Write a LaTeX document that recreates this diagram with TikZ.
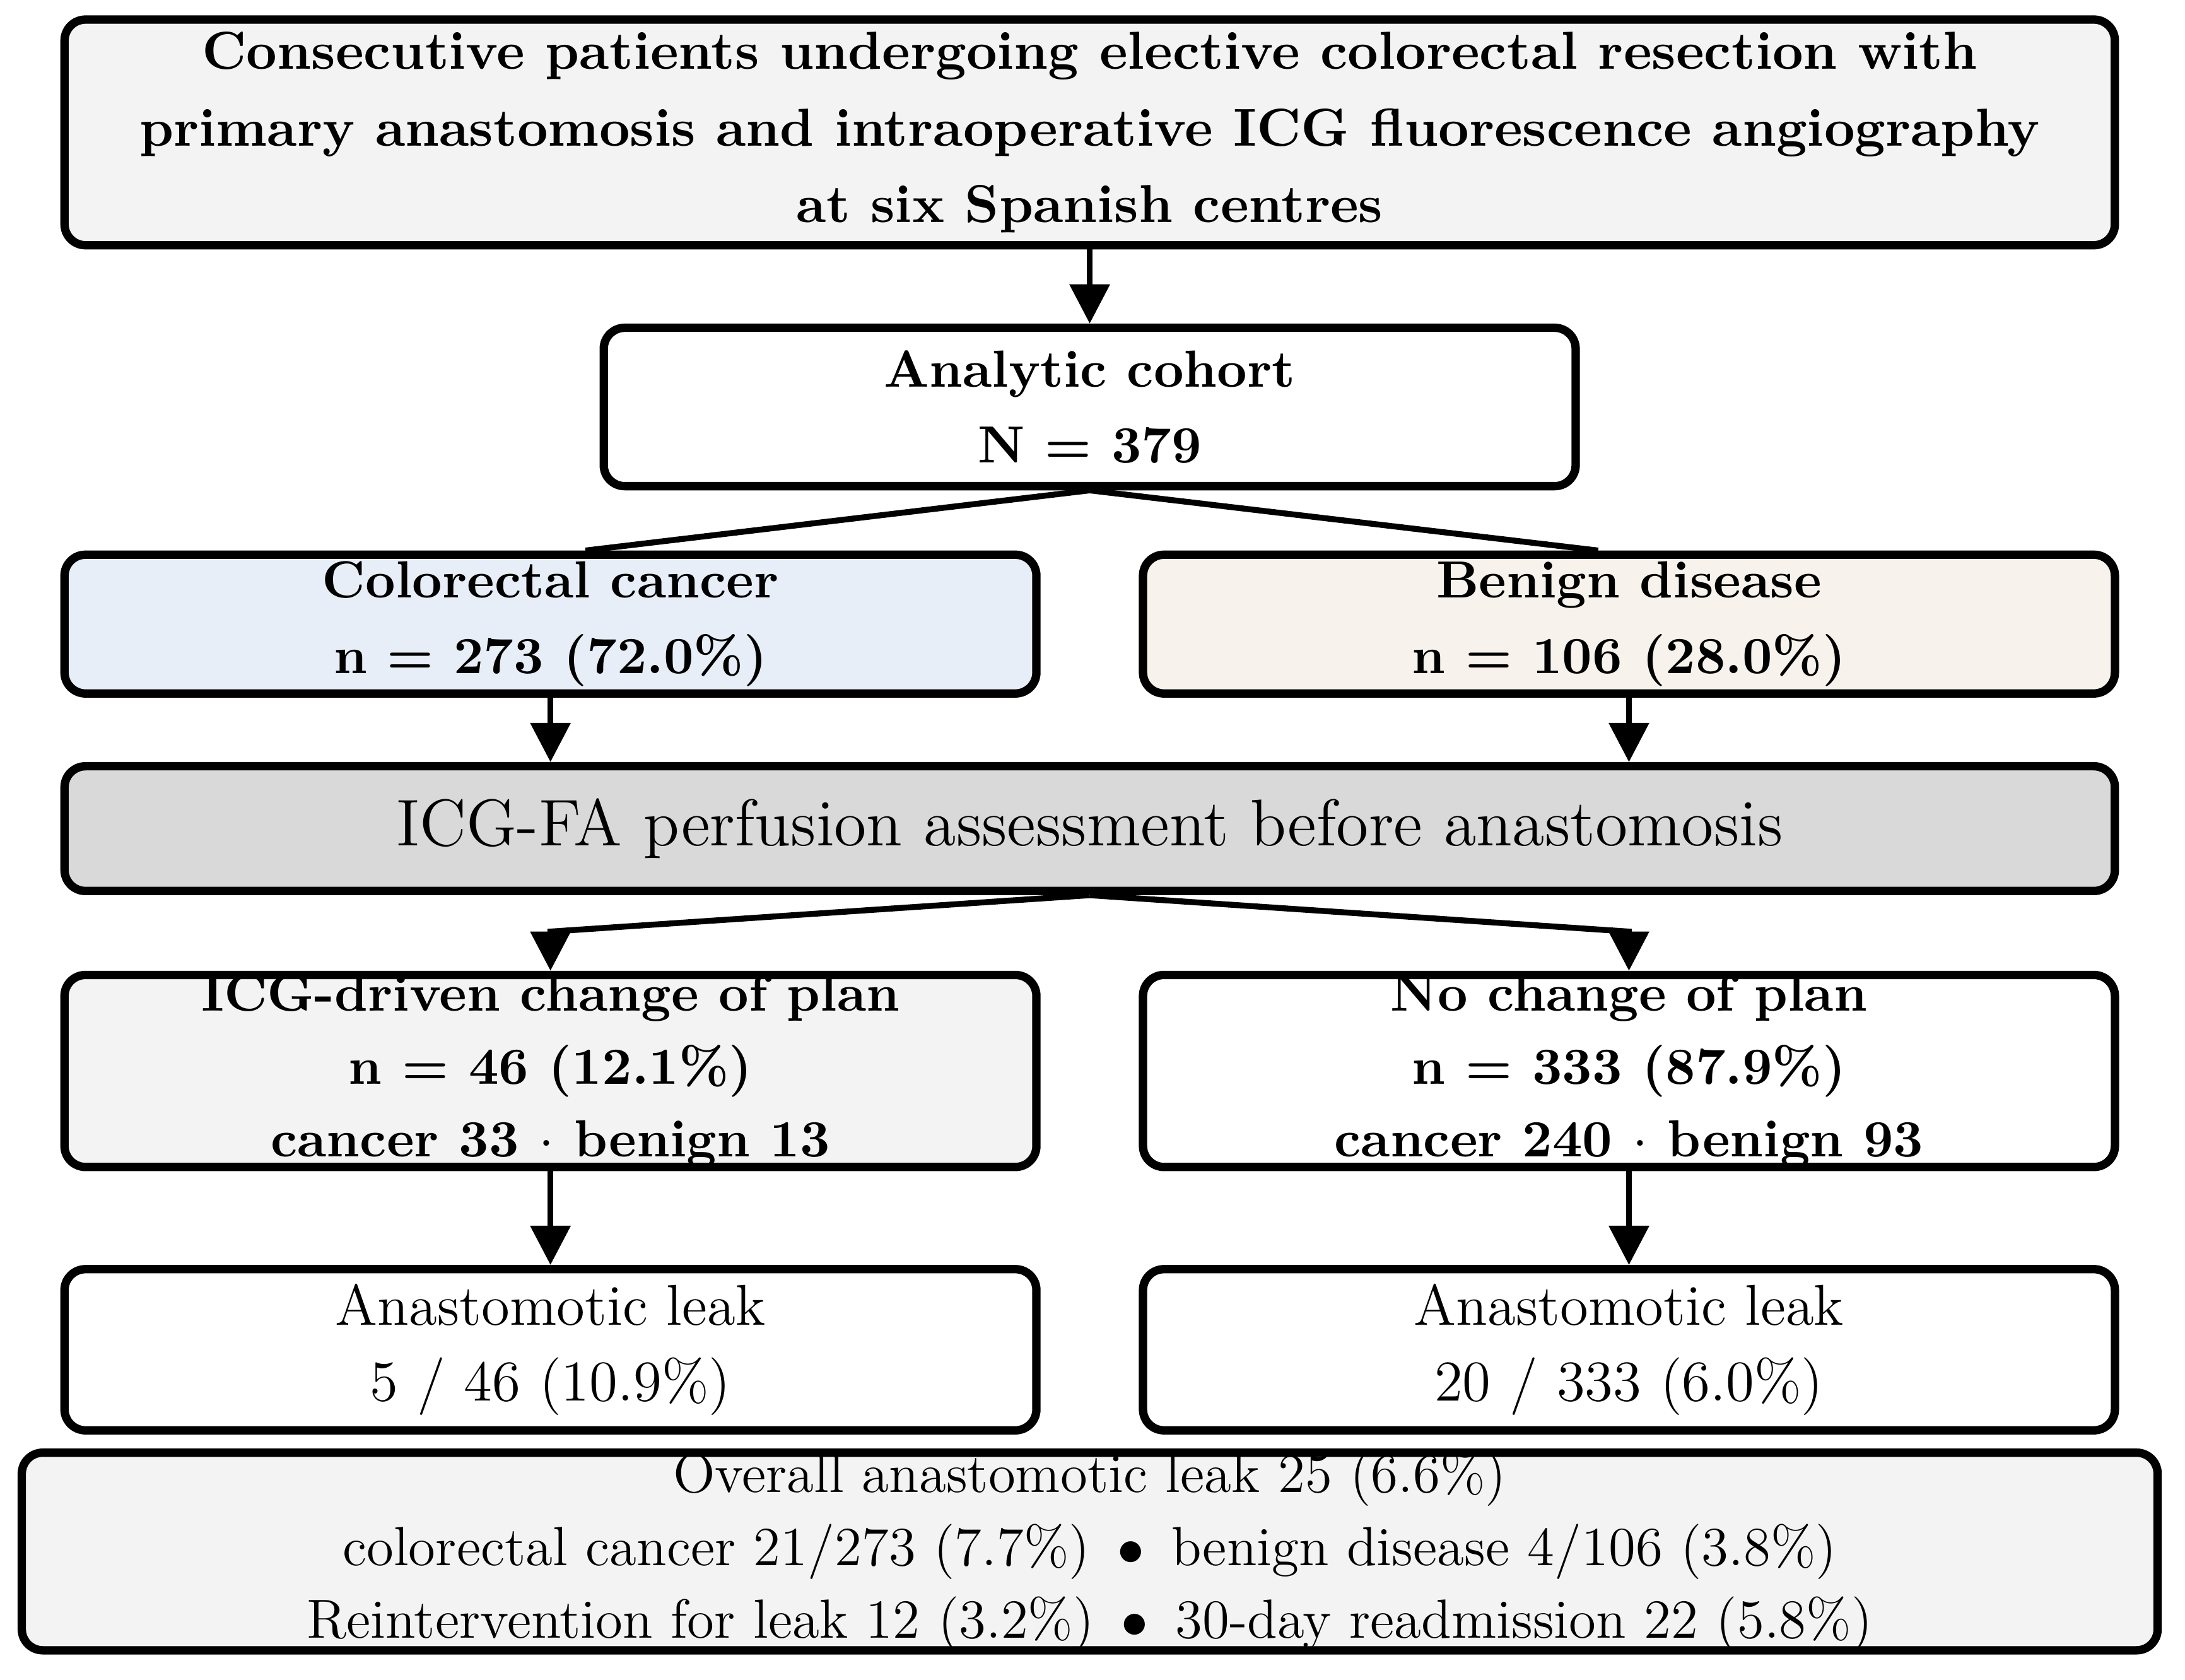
\documentclass[tikz,border=0pt]{standalone}
\usepackage{fontspec}
\usetikzlibrary{arrows.meta}

\definecolor{lightgray}{HTML}{F3F3F3}
\definecolor{cancerblue}{HTML}{E8EEF7}
\definecolor{benignbeige}{HTML}{F7F3EC}
\definecolor{perfgray}{HTML}{D9D9D9}

\begin{document}
\begin{tikzpicture}[
    x=0.01cm, y=-0.01cm,
    box/.style={draw=black, fill=white, line width=1.7pt, rounded corners=0.15cm, inner sep=0pt},
    full/.style={box, minimum width=14.63cm},
    half/.style={box, minimum width=6.935cm},
    bf/.style={align=center, inner sep=0pt, font=\fontsize{10.6}{15.4}\selectfont\bfseries},
    rm/.style={align=center, inner sep=0pt, font=\fontsize{11.7}{15.4}\selectfont},
    big/.style={align=center, inner sep=0pt, font=\fontsize{13.4}{16}\selectfont},
    arrow/.style={-{Triangle[length=0.28cm, width=0.28cm]}, line width=1.2pt},
    link/.style={line width=1.2pt}
]
\useasboundingbox (0,0) rectangle (1560,1199);

\node[full, fill=lightgray, minimum height=1.61cm,
      label={[bf, font=\fontsize{10.85}{15.6}\selectfont\bfseries]center:Consecutive patients undergoing elective colorectal resection with\\primary anastomosis and intraoperative ICG fluorescence angiography\\at six Spanish centres}] (title) at (778,94.5) {};

\node[half, minimum height=1.13cm,
      label={[bf]center:Analytic cohort\\N = 379}] (cohort) at (778,290.5) {};

\node[half, fill=cancerblue, minimum height=0.99cm,
      label={[bf]center:Colorectal cancer\\n = 273 (72.0\%)}] (cancer) at (393,445.5) {};
\node[half, fill=benignbeige, minimum height=0.99cm,
      label={[bf]center:Benign disease\\n = 106 (28.0\%)}] (benign) at (1163,445.5) {};

\node[full, fill=perfgray, minimum height=0.89cm,
      label={[big]center:ICG-FA perfusion assessment before anastomosis}] (perf) at (778,591.5) {};

\node[half, fill=lightgray, minimum height=1.37cm,
      label={[bf, font=\fontsize{10.6}{14.8}\selectfont\bfseries]center:ICG-driven change of plan\\n = 46 (12.1\%)\\cancer 33 $\cdot$ benign 13}] (change) at (393,764.5) {};
\node[half, minimum height=1.37cm,
      label={[bf, font=\fontsize{10.6}{14.8}\selectfont\bfseries]center:No change of plan\\n = 333 (87.9\%)\\cancer 240 $\cdot$ benign 93}] (nochange) at (1163,764.5) {};

\node[half, minimum height=1.15cm,
      label={[rm]center:Anastomotic leak\\5 / 46 (10.9\%)}] (leakA) at (393,963.5) {};
\node[half, minimum height=1.15cm,
      label={[rm]center:Anastomotic leak\\20 / 333 (6.0\%)}] (leakB) at (1163,963.5) {};

\node[box, fill=lightgray, minimum width=15.24cm, minimum height=1.41cm,
      label={[rm, font=\fontsize{11.2}{14.8}\selectfont]center:Overall anastomotic leak 25 (6.6\%)\\colorectal cancer 21/273 (7.7\%) \,$\bullet$\, benign disease 4/106 (3.8\%)\\Reintervention for leak 12 (3.2\%) \,$\bullet$\, 30-day readmission 22 (5.8\%)}] (overall) at (778,1107.5) {};

% connectors
\coordinate (kA) at (393,665);
\coordinate (kB) at (1163,665);

\draw[arrow] (title) -- (cohort);
\draw[link] (cohort.south) -- ([xshift=0.25cm]cancer.north);
\draw[link] (cohort.south) -- ([xshift=-0.22cm]benign.north);
\draw[arrow] (cancer) -- (cancer |- perf.north);
\draw[arrow] (benign) -- (benign |- perf.north);
\draw[arrow] (perf.south) -- (kA) -- (change);
\draw[arrow] (perf.south) -- (kB) -- (nochange);
\draw[arrow] (change) -- (leakA);
\draw[arrow] (nochange) -- (leakB);

\end{tikzpicture}
\end{document}
